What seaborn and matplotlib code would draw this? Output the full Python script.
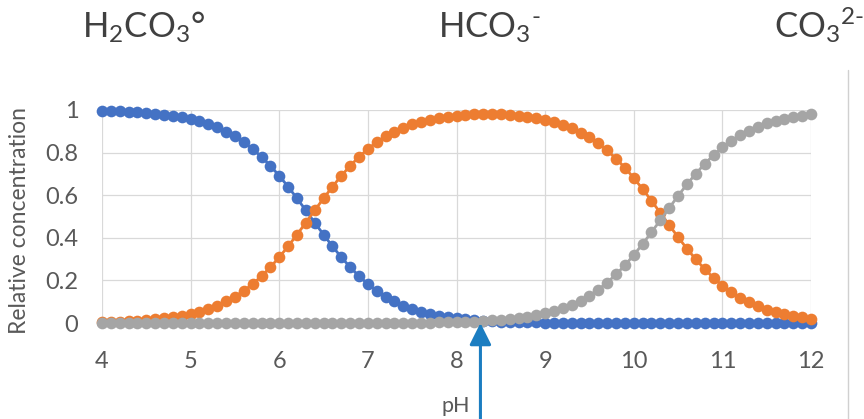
import matplotlib
matplotlib.use("Agg")
import matplotlib.pyplot as plt
import seaborn as sns
import pandas as pd

# pH grid of the speciation table
ph = [4.0, 4.1, 4.2, 4.3, 4.4, 4.5, 4.6, 4.7, 4.8, 4.9,
      5.0, 5.1, 5.2, 5.3, 5.4, 5.5, 5.6, 5.7, 5.8, 5.9,
      6.0, 6.1, 6.2, 6.3, 6.4, 6.5, 6.6, 6.7, 6.8, 6.9,
      7.0, 7.1, 7.2, 7.3, 7.4, 7.5, 7.6, 7.7, 7.8, 7.9,
      8.0, 8.1, 8.2, 8.3, 8.4, 8.5, 8.6, 8.7, 8.8, 8.9,
      9.0, 9.1, 9.2, 9.3, 9.4, 9.5, 9.6, 9.7, 9.8, 9.9,
      10.0, 10.1, 10.2, 10.3, 10.4, 10.5, 10.6, 10.7, 10.8, 10.9,
      11.0, 11.1, 11.2, 11.3, 11.4, 11.5, 11.6, 11.7, 11.8, 11.9,
      12.0]

# Relative concentration of each carbonate species
h2co3 = [0.996, 0.994, 0.993, 0.991, 0.989, 0.986, 0.983, 0.978, 0.973, 0.966,
         0.957, 0.947, 0.934, 0.918, 0.899, 0.876, 0.849, 0.817, 0.780, 0.738,
         0.691, 0.640, 0.585, 0.529, 0.471, 0.415, 0.360, 0.309, 0.262, 0.220,
         0.183, 0.151, 0.124, 0.101, 0.082, 0.066, 0.053, 0.043, 0.034, 0.027,
         0.022, 0.017, 0.014, 0.011, 0.009, 0.007, 0.005, 0.004, 0.003, 0.003,
         0.002, 0.002, 0.001, 0.001, 0.001, 0.001, 0.000, 0.000, 0.000, 0.000,
         0.000, 0.000, 0.000, 0.000, 0.000, 0.000, 0.000, 0.000, 0.000, 0.000,
         0.000, 0.000, 0.000, 0.000, 0.000, 0.000, 0.000, 0.000, 0.000, 0.000,
         0.000]

hco3 = [0.004, 0.006, 0.007, 0.009, 0.011, 0.014, 0.017, 0.022, 0.027, 0.034,
        0.043, 0.053, 0.066, 0.082, 0.101, 0.124, 0.151, 0.183, 0.220, 0.262,
        0.309, 0.360, 0.415, 0.471, 0.529, 0.585, 0.640, 0.691, 0.738, 0.780,
        0.817, 0.849, 0.876, 0.898, 0.917, 0.933, 0.945, 0.955, 0.963, 0.969,
        0.974, 0.977, 0.979, 0.980, 0.980, 0.979, 0.976, 0.973, 0.968, 0.962,
        0.953, 0.943, 0.930, 0.914, 0.894, 0.871, 0.843, 0.810, 0.772, 0.729,
        0.681, 0.629, 0.574, 0.517, 0.460, 0.403, 0.349, 0.299, 0.253, 0.212,
        0.176, 0.145, 0.119, 0.097, 0.078, 0.063, 0.051, 0.041, 0.033, 0.026,
        0.021]

co3 = [0.000, 0.000, 0.000, 0.000, 0.000, 0.000, 0.000, 0.000, 0.000, 0.000,
       0.000, 0.000, 0.000, 0.000, 0.000, 0.000, 0.000, 0.000, 0.000, 0.000,
       0.000, 0.000, 0.000, 0.000, 0.000, 0.000, 0.000, 0.000, 0.000, 0.000,
       0.000, 0.000, 0.001, 0.001, 0.001, 0.001, 0.002, 0.002, 0.003, 0.004,
       0.005, 0.006, 0.007, 0.009, 0.012, 0.014, 0.018, 0.023, 0.029, 0.036,
       0.045, 0.056, 0.069, 0.085, 0.105, 0.129, 0.157, 0.190, 0.228, 0.271,
       0.319, 0.371, 0.426, 0.483, 0.540, 0.597, 0.651, 0.701, 0.747, 0.788,
       0.824, 0.855, 0.881, 0.903, 0.922, 0.937, 0.949, 0.959, 0.967, 0.974,
       0.979]

species_labels = [r"H$_2$CO$_3$°", r"HCO$_3$$^{\text{-}}$", r"CO$_3$$^{2\text{-}}$"]
x_ticks = [4, 5, 6, 7, 8, 9, 10, 11, 12]
y_ticks = [0, 0.2, 0.4, 0.6, 0.8, 1]
y_tick_labels = ["0", "0.2", "0.4", "0.6", "0.8", "1"]
ph_marker = 8.27

sns.set_theme(style="white")
plt.rcParams["font.family"] = ["Lato", "DejaVu Sans"]
plt.rcParams["mathtext.fontset"] = "custom"
plt.rcParams["mathtext.rm"] = "Lato"
plt.rcParams["mathtext.default"] = "regular"

W, H = 864, 419
fig = plt.figure(figsize=(W / 100, H / 100), dpi=100)
fig.patch.set_facecolor("white")
ax = fig.add_axes([102 / W, 1 - 323 / H, 709 / W, 213 / H])

df = pd.DataFrame({"pH": ph, "H2CO3": h2co3, "HCO3": hco3, "CO3": co3})
colors = {"H2CO3": "#4472C4", "HCO3": "#ED7D31", "CO3": "#A5A5A5"}
for z, col in enumerate(["H2CO3", "HCO3", "CO3"]):
    sns.lineplot(data=df, x="pH", y=col, ax=ax, color=colors[col],
                 marker="o", markersize=8.4, markeredgewidth=0,
                 linewidth=2.0, zorder=3 + z, clip_on=False)

ax.set_xlim(4, 12)
ax.set_ylim(0, 1)
ax.set_xticks(x_ticks)
ax.set_yticks(y_ticks)
ax.set_yticklabels(y_tick_labels)
ax.grid(True, color="#d9d9d9", linewidth=0.9)
ax.set_axisbelow(True)
for s in ax.spines.values():
    s.set_visible(False)
ax.tick_params(axis="x", length=0, pad=20, labelsize=17, labelcolor="#595959")
ax.tick_params(axis="y", length=0, pad=17, labelsize=17, labelcolor="#595959")
ax.set_xlabel("")
ax.set_ylabel("")

fig.text(456 / W, 1 - 406 / H, "pH", ha="center", va="center",
         fontsize=15.5, color="#595959")
fig.text(20 / W, 1 - 220 / H, "Relative concentration", rotation=90,
         ha="center", va="center", fontsize=16.5, color="#595959")

# species names across the top
for xl, lab in zip([82, 438, 774], species_labels):
    fig.text(xl / W, 1 - 38 / H, lab, ha="left", va="baseline",
             fontsize=25, color="#404040")

# right edge of the chart frame
fig.add_artist(plt.Line2D([848 / W, 848 / W], [0, 1 - 70 / H],
                          color="#d0d0d0", linewidth=1.0))

# arrow pointing at the pH of maximum bicarbonate
ax.annotate("", xy=(ph_marker, 0), xycoords="data",
            xytext=(ph_marker, -96 / 213), textcoords="data",
            arrowprops=dict(arrowstyle="-|>,head_length=1.1,head_width=0.55",
                            color="#1B7DC1", linewidth=2.2,
                            shrinkA=0, shrinkB=0),
            annotation_clip=False, zorder=10)

fig.savefig("out.png", dpi=100)
